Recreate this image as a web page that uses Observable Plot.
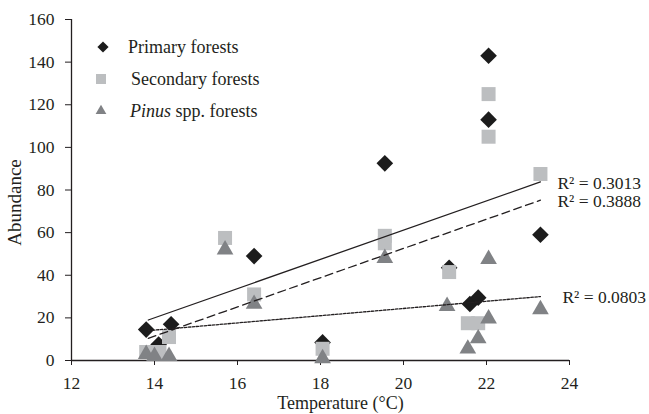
<!DOCTYPE html>
<html><head><meta charset="utf-8">
<script src="https://cdn.jsdelivr.net/npm/d3@7"></script>
<script src="https://cdn.jsdelivr.net/npm/@observablehq/plot@0.6"></script>
<style>
body{margin:0;background:#fff;}
#wrap{position:relative;width:649px;height:414px;}
</style></head><body><div id="wrap"></div>
<script>
// ---- data ----
const primaryTemp  = [13.8, 14.1, 14.4, 16.4, 18.05, 19.55, 21.1, 21.6, 21.8, 22.05, 22.05, 23.3];
const primaryAbund = [14.5, 7.5, 17, 49, 8.5, 92.5, 43.5, 26.5, 29.5, 143, 113, 59];
const secondaryTemp  = [13.8, 14.12, 14.35, 15.7, 16.4, 18.05, 19.55, 19.55, 21.1, 21.55, 21.8, 22.05, 22.05, 23.3];
const secondaryAbund = [4, 4, 11, 57.5, 31, 5.5, 58.5, 55, 41.5, 17.5, 17.5, 125, 105, 87.5];
const pinusTemp  = [13.8, 14.0, 14.35, 15.7, 16.4, 18.05, 19.55, 21.05, 21.55, 21.8, 22.05, 22.05, 23.3];
const pinusAbund = [3, 2, 2, 52, 26.5, 1, 48, 25.5, 5.5, 10.3, 19.6, 47.5, 24];
const trendTemp      = [13.85, 23.3];
const trendPrimary   = [19.0, 83.8];
const trendSecondary = [10.4, 75.2];
const trendPinus     = [14.0, 30.0];
const r2Labels = ["R² = 0.3013", "R² = 0.3888", "R² = 0.0803"];
const legendLabels = ["Primary forests", "Secondary forests", "Pinus spp. forests"];
const xTicks = [12, 14, 16, 18, 20, 22, 24];
const yTicks = [0, 20, 40, 60, 80, 100, 120, 140, 160];
const xLabel = "Temperature (°C)";
const yLabel = "Abundance";

// ---- styles ----
const ink = "#231f20";
const cPrimary = "#1c1c1c", cSecondary = "#bcbec0", cPinus = "#808285";
const font = "'Liberation Serif', 'Times New Roman', serif";

const pts = (xs, ys) => xs.map((t, i) => ({t, a: ys[i]}));
const primary = pts(primaryTemp, primaryAbund);
const secondary = pts(secondaryTemp, secondaryAbund);
const pinus = pts(pinusTemp, pinusAbund);
const tP = pts(trendTemp, trendPrimary);
const tS = pts(trendTemp, trendSecondary);
const tN = pts(trendTemp, trendPinus);
const lab12 = [
  {t: trendTemp[1], a: trendPrimary[1], s: r2Labels[0]},
  {t: trendTemp[1], a: trendSecondary[1], s: r2Labels[1]}
];
const lab3 = [{t: trendTemp[1], a: trendPinus[1], s: r2Labels[2]}];

const chart = Plot.plot({
  width: 649, height: 414,
  marginLeft: 71, marginRight: 80, marginTop: 19, marginBottom: 54,
  style: {fontFamily: font, fontSize: "17.5px", color: ink, background: "#fff"},
  x: {domain: [12, 24]},
  y: {domain: [0, 160]},
  marks: [
    Plot.axisX({ticks: xTicks, tickSize: 5, tickPadding: 11, label: null, fontSize: 17.5}),
    Plot.axisY({ticks: yTicks, tickSize: 6, tickPadding: 11, label: null, fontSize: 17.5}),
    Plot.ruleX([xTicks[0]], {y1: yTicks[0], y2: yTicks[yTicks.length - 1], stroke: ink, strokeWidth: 1.3}),
    Plot.ruleY([yTicks[0]], {x1: xTicks[0], x2: xTicks[xTicks.length - 1], stroke: ink, strokeWidth: 1.3}),
    Plot.dot(primary, {x: "t", y: "a", symbol: d3.symbolDiamond2, r: 7.5, fill: cPrimary, stroke: "none"}),
    Plot.dot(secondary, {x: "t", y: "a", symbol: d3.symbolSquare, r: 7.9, fill: cSecondary, stroke: "none"}),
    Plot.dot(pinus, {x: "t", y: "a", symbol: d3.symbolTriangle, r: 6.2, fill: cPinus, stroke: "none"}),
    Plot.line(tP, {x: "t", y: "a", stroke: ink, strokeWidth: 1.3}),
    Plot.line(tS, {x: "t", y: "a", stroke: ink, strokeWidth: 1.3, strokeDasharray: "8,4.5"}),
    Plot.line(tN, {x: "t", y: "a", stroke: ink, strokeWidth: 1.3, strokeDasharray: "2.5,1.5"}),
    Plot.text(lab12, {x: "t", y: "a", text: "s", textAnchor: "start", dx: 17, dy: 1, fontSize: 17.5, fill: ink}),
    Plot.text(lab3, {x: "t", y: "a", text: "s", textAnchor: "start", dx: 22, dy: 1, fontSize: 17.5, fill: ink}),
    Plot.text([xLabel], {frameAnchor: "bottom", textAnchor: "middle", lineAnchor: "middle", dx: 20, dy: 43, fontSize: 18, fill: ink}),
    Plot.text([yLabel], {frameAnchor: "left", textAnchor: "middle", lineAnchor: "middle", rotate: -90, dx: -57, dy: 12.5, fontSize: 19, fill: ink})
  ]
});
const wrap = document.getElementById("wrap");
wrap.appendChild(chart);

// ---- legend (inside plot, top-left) ----
const leg = d3.select(wrap).append("svg")
  .attr("width", 649).attr("height", 414)
  .style("position", "absolute").style("left", "0px").style("top", "0px")
  .style("pointer-events", "none");
const legendSym = [
  {sym: d3.symbolDiamond2, size: 80, fill: cPrimary, cx: 103, cy: 47, tx: 128, ty: 52.5},
  {sym: d3.symbolSquare, size: 100, fill: cSecondary, cx: 101, cy: 79, tx: 131, ty: 85},
  {sym: d3.symbolTriangle, size: 50, fill: cPinus, cx: 101, cy: 111, tx: 130, ty: 117}
];
legendSym.forEach((d, i) => {
  leg.append("path").attr("d", d3.symbol(d.sym, d.size)())
    .attr("transform", `translate(${d.cx},${d.cy})`).attr("fill", d.fill);
  const txt = leg.append("text").attr("x", d.tx).attr("y", d.ty)
    .attr("font-family", font).attr("font-size", 18).attr("fill", ink);
  const label = legendLabels[i];
  if (label.startsWith("Pinus")) {
    txt.append("tspan").attr("font-style", "italic").text("Pinus");
    txt.append("tspan").text(label.slice(5));
  } else {
    txt.text(label);
  }
});
</script>
</body></html>
